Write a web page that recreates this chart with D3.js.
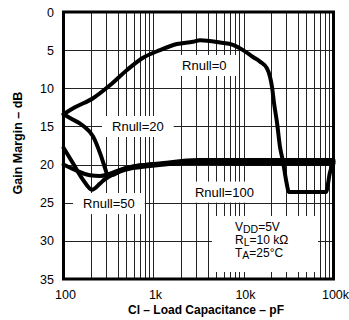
<!DOCTYPE html>
<html><head><meta charset="utf-8">
<script src="https://cdn.jsdelivr.net/npm/d3@7"></script>
<style>body{margin:0;background:#fff}svg{display:block}</style>
</head><body><svg id="c" width="349" height="320"></svg>
<script>
// ---- data ----
const xTickValues = [100, 1000, 10000, 100000];
const xTickLabels = ["100", "1k", "10k", "100k"];
const yTickValues = [0, 5, 10, 15, 20, 25, 30, 35];

const capR0 = [100, 134, 213, 328, 508, 765, 1180, 1820, 2740, 3290, 5500, 7640, 9870, 12750, 15250, 18240, 19690, 20730, 21810, 23570, 25450, 27480, 29670, 32040, 60000, 82540, 91450, 100000];
const gmR0  = [13.4, 12.5, 11.3, 9.6, 7.6, 6.0, 5.0, 4.2, 3.9, 3.7, 4.0, 4.3, 5.0, 5.9, 6.5, 7.4, 8.5, 9.8, 11.9, 14.5, 17.7, 19.6, 22.0, 23.6, 23.6, 23.6, 21.0, 19.7];

const capR20 = [100, 118, 165, 213, 260, 290, 310, 340, 480, 1290, 3090, 9300, 100000];
const gmR20  = [13.4, 13.9, 14.9, 16.3, 18.8, 20.5, 21.4, 21.4, 20.5, 19.8, 19.4, 19.4, 19.4];

const capR50 = [100, 127, 165, 207, 254, 289, 328, 482, 914, 3290, 11800, 100000];
const gmR50  = [17.8, 19.8, 22.0, 23.3, 22.5, 21.9, 21.5, 20.7, 20.2, 19.7, 19.6, 19.6];

const capR100 = [100, 134, 197, 254, 328, 424, 708, 1524, 3290, 15250, 100000];
const gmR100  = [20.0, 20.7, 21.4, 21.5, 21.2, 20.7, 20.1, 19.9, 19.8, 19.9, 19.9];

const seriesNames = ["Rnull=0", "Rnull=20", "Rnull=50", "Rnull=100"];
const labelCap = [2075, 346, 165, 2891];
const labelGm  = [7.6, 15.6, 25.7, 24.2];

const condLines = [["V", "DD", "=5V"], ["R", "L", "=10 kΩ"], ["T", "A", "=25°C"]];

// ---- layout ----
const svg = d3.select("#c");
const L = 63.5, R = 333.5, T = 12, B = 279;
const x = d3.scaleLog().domain([100, 100000]).range([L, R]);
const y = d3.scaleLinear().domain([0, 35]).range([T, B]);
const font = "'Liberation Sans', Arial, Helvetica, sans-serif";

// grid
const minor = [];
for (let d = 100; d < 100000; d *= 10) for (let k = 1; k <= 9; k++) { const v = d * k; if (v > 100 && v < 100000) minor.push(v); }
const grid = svg.append("g").attr("stroke", "#222").attr("stroke-width", 1);
grid.selectAll("line.v").data(minor).join("line")
  .attr("x1", d => Math.round(x(d)) + 0.5).attr("x2", d => Math.round(x(d)) + 0.5)
  .attr("y1", T).attr("y2", B);
grid.selectAll("line.h").data(yTickValues.filter(v => v > 0 && v < 35)).join("line")
  .attr("y1", d => Math.round(y(d)) + 0.5).attr("y2", d => Math.round(y(d)) + 0.5)
  .attr("x1", L).attr("x2", R);

// label backgrounds
const lblG = svg.append("g");
const lbls = lblG.selectAll("text").data(seriesNames).join("text")
  .attr("x", (d, i) => x(labelCap[i])).attr("y", (d, i) => y(labelGm[i]))
  .attr("font-family", font).attr("font-size", 13).attr("fill", "#000")
  .text(d => d);
lbls.each(function() {
  const bb = this.getBBox();
  lblG.insert("rect", "text").attr("x", bb.x - 10).attr("y", bb.y - 3)
    .attr("width", bb.width + 20).attr("height", bb.height + 6).attr("fill", "#fff");
});

// conditions box
svg.append("rect").attr("x", 212).attr("y", 216).attr("width", 106).attr("height", 56).attr("fill", "#fff");
const cond = svg.append("g").attr("font-family", font).attr("fill", "#000");
condLines.forEach((ln, i) => {
  const t = cond.append("text").attr("x", 235).attr("y", 231 + i * 13).attr("font-size", 12);
  t.append("tspan").text(ln[0]);
  t.append("tspan").attr("dy", 2).attr("font-size", 10.5).text(ln[1]);
  t.append("tspan").attr("dy", -2).text(ln[2]);
});

// curves
const line = d3.line().x(d => x(d[0])).y(d => y(d[1])).curve(d3.curveMonotoneX);
const curves = [[capR0, gmR0], [capR20, gmR20], [capR50, gmR50], [capR100, gmR100]];
svg.append("g").selectAll("path").data(curves).join("path")
  .attr("d", c => line(c[0].map((v, i) => [v, c[1][i]])))
  .attr("fill", "none").attr("stroke", "#000").attr("stroke-width", 4)
  .attr("stroke-linejoin", "round").attr("stroke-linecap", "round");

// frame
svg.append("rect").attr("x", L).attr("y", T).attr("width", R - L).attr("height", B - T)
  .attr("fill", "none").attr("stroke", "#000").attr("stroke-width", 3);

// axes labels
svg.append("g").selectAll("text").data(yTickValues).join("text")
  .attr("x", 54).attr("y", d => y(d)).attr("dy", "0.36em").attr("text-anchor", "end")
  .attr("font-family", font).attr("font-size", 12.5).text(d => d);
svg.append("g").selectAll("text").data(xTickValues).join("text")
  .attr("x", d => x(d) + 2).attr("y", 299).attr("text-anchor", "middle")
  .attr("font-family", font).attr("font-size", 12.5).text((d, i) => xTickLabels[i]);

svg.append("text").attr("x", 206).attr("y", 314).attr("text-anchor", "middle")
  .attr("font-family", font).attr("font-size", 12).attr("font-weight", "bold")
  .text("Cl – Load Capacitance – pF");
svg.append("text").attr("transform", "translate(22,143) rotate(-90)").attr("text-anchor", "middle")
  .attr("font-family", font).attr("font-size", 12.5).attr("font-weight", "bold")
  .text("Gain Margin – dB");
</script></body></html>
